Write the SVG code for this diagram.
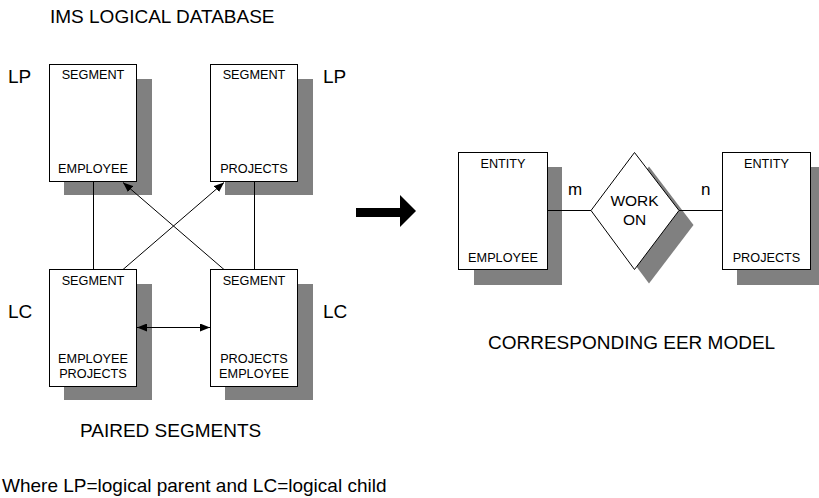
<svg xmlns="http://www.w3.org/2000/svg" width="819" height="498" viewBox="0 0 819 498">
  <style>
    .shadow { fill: #808080; stroke: none; }
    .box { fill: #ffffff; stroke: #000000; stroke-width: 1; }
    .line { fill: none; stroke: #000000; stroke-width: 1; }
    text { font-family: "Liberation Sans", Arial, sans-serif; fill: #000000; }
    .cap { font-size: 19px; }
    .lbl { font-size: 12.7px; text-anchor: middle; }
    .rel { font-size: 15.5px; text-anchor: middle; }
    .card { font-size: 17px; }
  </style>
  <defs>
    <marker id="head" viewBox="0 0 10 8" refX="10" refY="4" markerWidth="10" markerHeight="8" markerUnits="userSpaceOnUse" orient="auto-start-reverse">
      <path d="M0,0 L10,4 L0,8 Z" fill="#000000"/>
    </marker>
  </defs>

  <!-- captions -->
  <text class="cap" x="50" y="23">IMS LOGICAL DATABASE</text>
  <text class="cap" x="8" y="83">LP</text>
  <text class="cap" x="323" y="83">LP</text>
  <text class="cap" x="8" y="318">LC</text>
  <text class="cap" x="323" y="318">LC</text>
  <text class="cap" x="80" y="437">PAIRED SEGMENTS</text>
  <text class="cap" x="488" y="349">CORRESPONDING EER MODEL</text>
  <text class="cap" x="2" y="492">Where LP=logical parent and LC=logical child</text>

  <!-- shadows -->
  <g id="shadows">
    <rect class="shadow" x="64" y="79" width="88" height="116"/>
    <rect class="shadow" x="225" y="79" width="88" height="116"/>
    <rect class="shadow" x="64" y="284" width="88" height="116"/>
    <rect class="shadow" x="225" y="284" width="88" height="116"/>
    <rect class="shadow" x="474" y="167" width="88" height="118"/>
    <rect class="shadow" x="737" y="167" width="88" height="118"/>
    <polygon class="shadow" points="605.5,225 649,166.5 693.5,225 649,283.5"/>
  </g>

  <!-- connectors -->
  <g id="connectors">
    <line class="line" x1="93.5" y1="181.5" x2="93.5" y2="269.5"/>
    <line class="line" x1="254.5" y1="181.5" x2="254.5" y2="269.5"/>
    <line class="line" x1="123" y1="269.5" x2="224" y2="182.5" marker-end="url(#head)"/>
    <line class="line" x1="224" y1="269.5" x2="123" y2="182.5" marker-end="url(#head)"/>
    <line class="line" x1="137" y1="327.5" x2="210" y2="327.5" marker-start="url(#head)" marker-end="url(#head)"/>
    <line class="line" x1="547.5" y1="210.5" x2="591" y2="210.5"/>
    <line class="line" x1="679" y1="210.5" x2="722.5" y2="210.5"/>
    <polygon points="356,208 400,208 400,195 416,211 400,227 400,217 356,217" fill="#000000"/>
  </g>

  <!-- segments -->
  <g id="seg-employee">
    <rect class="box" x="49.5" y="64.5" width="87" height="117"/>
    <text class="lbl" x="93" y="79">SEGMENT</text>
    <text class="lbl" x="93" y="173">EMPLOYEE</text>
  </g>
  <g id="seg-projects">
    <rect class="box" x="210.5" y="64.5" width="87" height="117"/>
    <text class="lbl" x="254" y="79">SEGMENT</text>
    <text class="lbl" x="254" y="173">PROJECTS</text>
  </g>
  <g id="seg-employee-projects">
    <rect class="box" x="49.5" y="269.5" width="87" height="117"/>
    <text class="lbl" x="93" y="285">SEGMENT</text>
    <text class="lbl" x="93" y="363">EMPLOYEE</text>
    <text class="lbl" x="93" y="377.5">PROJECTS</text>
  </g>
  <g id="seg-projects-employee">
    <rect class="box" x="210.5" y="269.5" width="87" height="117"/>
    <text class="lbl" x="254" y="285">SEGMENT</text>
    <text class="lbl" x="254" y="363">PROJECTS</text>
    <text class="lbl" x="254" y="377.5">EMPLOYEE</text>
  </g>

  <!-- EER model -->
  <g id="ent-employee">
    <rect class="box" x="458.5" y="152.5" width="89" height="117"/>
    <text class="lbl" x="503" y="168">ENTITY</text>
    <text class="lbl" x="503" y="262">EMPLOYEE</text>
  </g>
  <g id="rel-work-on">
    <polygon class="box" points="591,210.5 634.5,152.5 679,210.5 634.5,269.5"/>
    <text class="rel" x="634.5" y="206">WORK</text>
    <text class="rel" x="634.5" y="225">ON</text>
  </g>
  <g id="ent-projects">
    <rect class="box" x="722.5" y="152.5" width="88" height="117"/>
    <text class="lbl" x="766.5" y="168">ENTITY</text>
    <text class="lbl" x="766.5" y="262">PROJECTS</text>
  </g>
  <text class="card" x="568" y="195">m</text>
  <text class="card" x="701" y="195">n</text>
</svg>
